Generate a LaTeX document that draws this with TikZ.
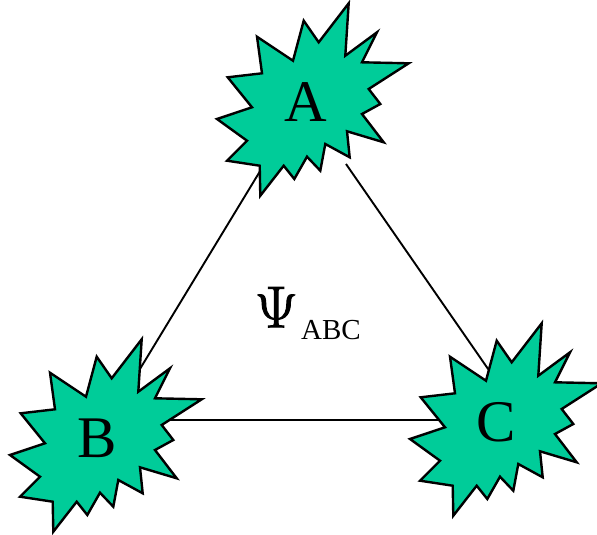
\documentclass[tikz,border=0pt]{standalone}
\usepackage{fontspec}
\setmainfont{Liberation Serif}
\newfontfamily\lmfont[FakeBold=1.6]{Latin Modern Roman}
\definecolor{burst}{HTML}{00CC99}
\begin{document}
\begin{tikzpicture}[x=1pt,y=-1pt,
  burststyle/.style={fill=burst,draw=black,line width=2.4pt,line join=miter},
  link/.style={draw=black,line width=1.9pt},
  letter/.style={font=\fontsize{59}{60}\selectfont,anchor=base,inner sep=0pt},
  psi/.style={font=\lmfont\fontsize{59}{60}\selectfont,anchor=base,inner sep=0pt},
  sub/.style={font=\fontsize{29}{30}\selectfont,anchor=base,inner sep=0pt}]
\useasboundingbox (0,0) rectangle (597,535);
\def\burst{(35.7,-96.2) -- (32.3,-43.8) -- (64,-67.2) -- (49,-37.2) -- (95.7,-36.2) -- (55.7,-10.5) -- (67.3,4.5) -- (49,14.5) -- (70.7,42.8) -- (34,31.8) -- (36.7,57.8) -- (12.3,44.5) -- (7.3,71.2) -- (-6,57.2) -- (-18.7,79.5) -- (-29.3,66.2) -- (-52.7,96.2) -- (-53.3,66.2) -- (-86,61.2) -- (-66,41.2) -- (-96,19.5) -- (-61,7.8) -- (-85.3,-22.2) -- (-51,-26.2) -- (-56,-62.8) -- (-20,-38.8) -- (-9.3,-78.8) -- (5.7,-57.2) -- cycle}
% connector end points
\coordinate (ab1) at (265,163);
\coordinate (ab2) at (138.3,371.7);
\coordinate (bc1) at (168,420);
\coordinate (bc2) at (445,420);
\coordinate (ac1) at (346,164);
\coordinate (ac2) at (488.3,369.3);
\draw[link] (ab1) -- (ab2);
\draw[link] (bc1) -- (bc2);
\draw[link] (ac1) -- (ac2);
% starbursts
\path[burststyle,shift={(313,99.5)}] \burst;
\path[burststyle,shift={(106,435.5)}] \burst;
\path[burststyle,shift={(506,419.5)}] \burst;
% labels
\node[letter] (A) at (305.5,121.5) {A};
\node[letter] (B) at (97,457.5) {B};
\node[letter] (C) at (496,441) {C};
\node[psi] (psi) at (276.3,327.3) {Ψ};
\node[sub] (abc) at (331,339.3) {ABC};
\end{tikzpicture}
\end{document}
